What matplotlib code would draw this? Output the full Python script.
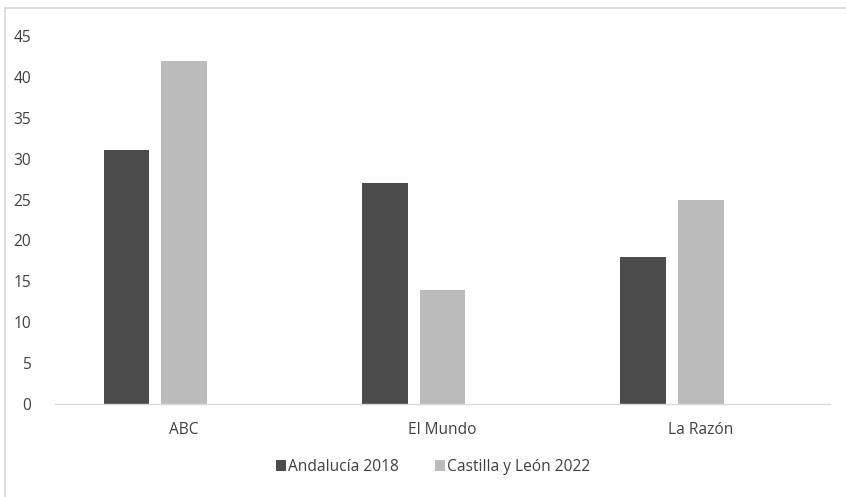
import matplotlib
matplotlib.use("Agg")
import matplotlib.pyplot as plt
import numpy as np
from matplotlib.lines import Line2D

categories = ["ABC", "El Mundo", "La Razón"]
series_names = ["Andalucía 2018", "Castilla y León 2022"]
andalucia_2018 = [31, 27, 18]
castilla_leon_2022 = [42, 14, 25]
yticks = [0, 5, 10, 15, 20, 25, 30, 35, 40, 45]

plt.rcParams['font.family'] = ['Open Sans', 'DejaVu Sans']

W, H = 846, 497
fig = plt.figure(figsize=(W / 100, H / 100), dpi=100)
ax = fig.add_axes([55 / W, 1 - 404 / H, (830 - 55) / W, (404 - 36) / H])

x = np.arange(len(categories))
width = 0.176
pitch = 0.223
ax.bar(x - pitch, andalucia_2018, width, color="#4b4b4b", label=series_names[0])
ax.bar(x, castilla_leon_2022, width, color="#bbbbbb", label=series_names[1])

ax.set_xlim(-0.5, len(categories) - 0.5)
ax.set_ylim(0, 45)
ax.set_yticks(yticks)
ax.set_xticks(x)
ax.set_xticklabels(categories)
ax.tick_params(axis='both', length=0, labelsize=11.2, colors="#404040")
ax.tick_params(axis='y', pad=17)
ax.tick_params(axis='x', pad=13)
for s in ["top", "right", "left"]:
    ax.spines[s].set_visible(False)
ax.spines["bottom"].set_color("#d9d9d9")
ax.spines["bottom"].set_linewidth(1.0)

leg = fig.legend(loc="center", bbox_to_anchor=(433 / W, 1 - 467 / H), ncol=2,
                 frameon=False, fontsize=11.2, handlelength=0.65, handleheight=0.65,
                 handletextpad=0.15, columnspacing=2.3)
for t in leg.get_texts():
    t.set_color("#404040")

# chart border (top and left visible)
fig.add_artist(Line2D([5 / W, 1], [1 - 8 / H, 1 - 8 / H], color="#d9d9d9", lw=1.2,
                      transform=fig.transFigure))
fig.add_artist(Line2D([5 / W, 5 / W], [0, 1 - 8 / H], color="#d9d9d9", lw=1.2,
                      transform=fig.transFigure))

fig.savefig("out.png", dpi=100)
